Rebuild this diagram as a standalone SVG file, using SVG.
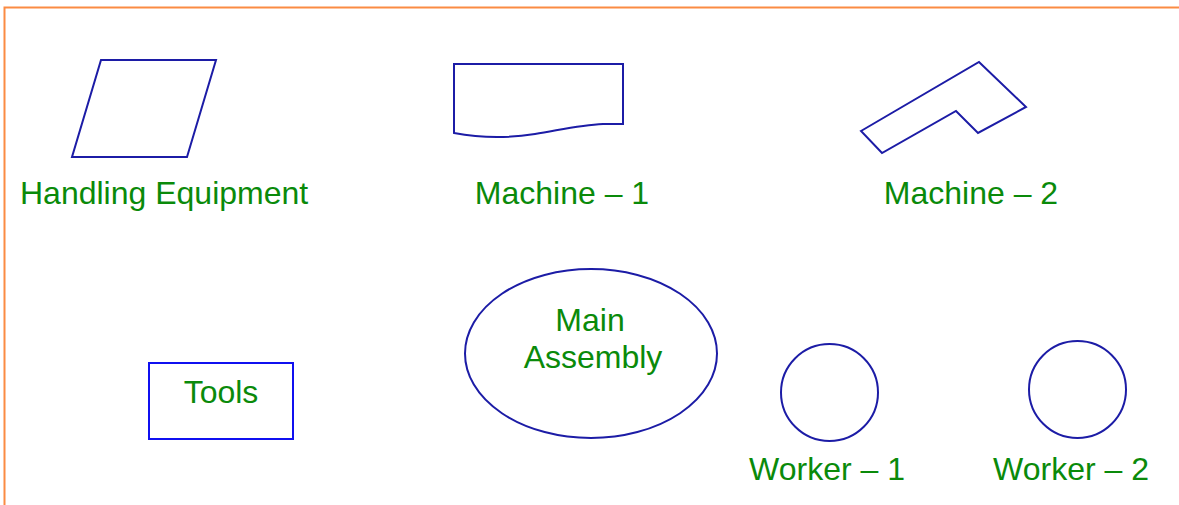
<svg xmlns="http://www.w3.org/2000/svg" width="1179" height="505" viewBox="0 0 1179 505">
<style>
.shape{fill:none;stroke:#1c1ca6;stroke-width:2;stroke-linejoin:miter}
.lbl{font-family:"Liberation Sans",Arial,sans-serif;font-size:32px;fill:#0a8a0a}
.mid{text-anchor:middle}
</style>
<rect width="1179" height="505" fill="#ffffff"/>
<g id="frame"><path d="M4.5 505 V7.5 H1179" fill="none" stroke="#fb8b43" stroke-width="2"/></g>
<g id="handling-equipment">
<polygon class="shape" points="101,60 216,60 187,157 72,157"/>
<text class="lbl" x="20" y="204">Handling Equipment</text>
</g>
<g id="machine-1">
<path class="shape" d="M454,133 V64 H623 V124 H603 C580,125 560,130 535,134 C510,138 480,138 454,133 Z"/>
<text class="lbl mid" x="562" y="204">Machine – 1</text>
</g>
<g id="machine-2">
<polygon class="shape" points="861,131 979,62 1026,107 978,133 956,111 882,153"/>
<text class="lbl mid" x="971" y="204">Machine – 2</text>
</g>
<g id="tools">
<rect x="149" y="363" width="144" height="76" fill="none" stroke="#1010f0" stroke-width="2"/>
<text class="lbl mid" x="221" y="403">Tools</text>
</g>
<g id="main-assembly">
<ellipse class="shape" cx="591" cy="353.5" rx="126" ry="84.5"/>
<text class="lbl mid" x="590" y="331">Main</text>
<text class="lbl mid" x="593" y="368">Assembly</text>
</g>
<g id="worker-1">
<circle class="shape" cx="829.5" cy="392.5" r="48.5"/>
<text class="lbl mid" x="827" y="480">Worker – 1</text>
</g>
<g id="worker-2">
<circle class="shape" cx="1077.5" cy="389.5" r="48.5"/>
<text class="lbl mid" x="1071" y="480">Worker – 2</text>
</g>
<g id="connectors"></g>
</svg>
